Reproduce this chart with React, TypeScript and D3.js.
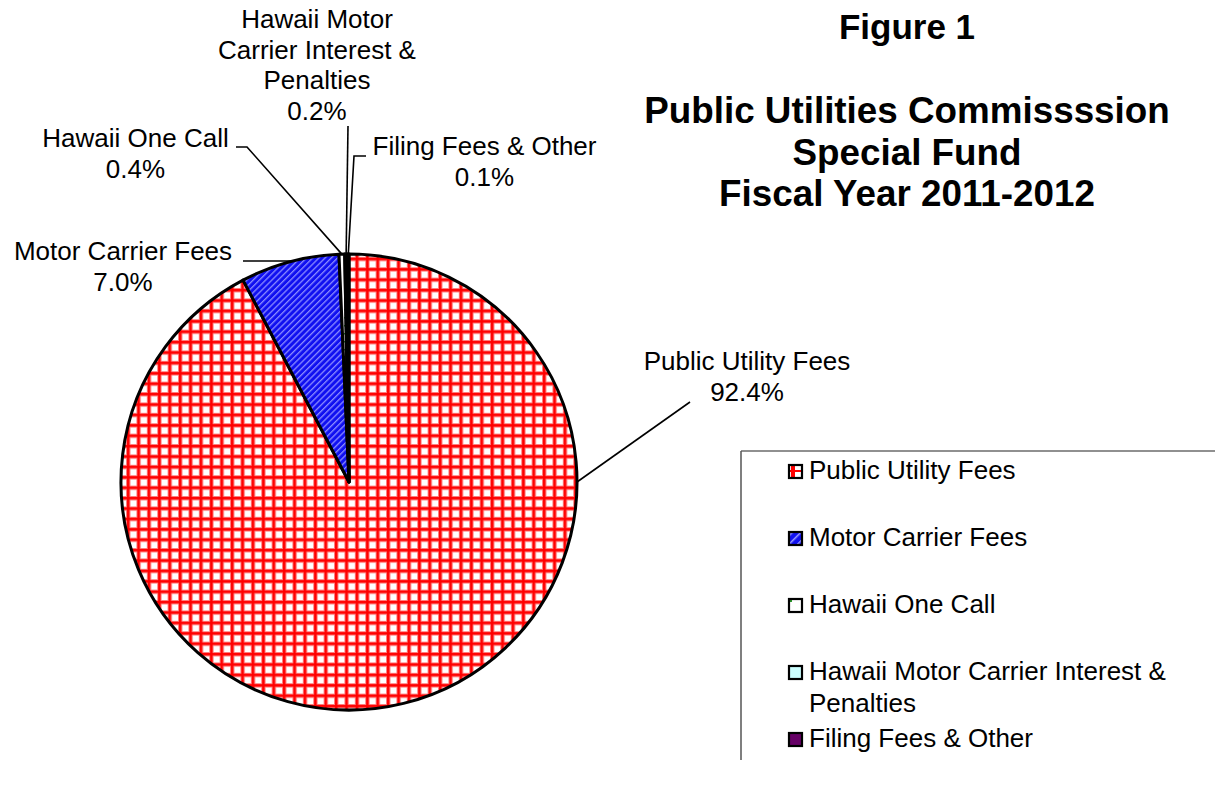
import React from "react";
import * as d3 from "d3";

const categories = [
  "Public Utility Fees",
  "Motor Carrier Fees",
  "Hawaii One Call",
  "Hawaii Motor Carrier Interest & Penalties",
  "Filing Fees & Other",
];
const values = [92.4, 7.0, 0.4, 0.2, 0.1];
const percentLabels = ["92.4%", "7.0%", "0.4%", "0.2%", "0.1%"];
const titleLines = ["Public Utilities Commissssion", "Special Fund", "Fiscal Year 2011-2012"];

const W = 1215;
const H = 786;
const CX = 349;
const CY = 482;
const R = 228;
const FONT = "'Liberation Sans', Arial, Helvetica, sans-serif";

const fills = ["url(#pRed)", "url(#pBlue)", "url(#pGreen)", "#ccffff", "#660066"];
const legendFills = ["url(#lRed)", "url(#lBlue)", "url(#lGreen)", "#ccffff", "#660066"];

// label layout: text lines, center x, first baseline, leader polyline start points, attach angle (null = slice middle)
const labelLayout = [
  { lines: ["Public Utility Fees"], cx: 747, y: 370, pts: [[690, 402]], angle: Math.PI / 2 },
  { lines: ["Motor Carrier Fees"], cx: 123, y: 260, pts: [[243, 261], [290, 261]], angle: null },
  { lines: ["Hawaii One Call"], cx: 135.5, y: 147, pts: [[236, 147], [247, 147]], angle: null },
  { lines: ["Hawaii Motor", "Carrier Interest &", "Penalties"], cx: 317, y: 28, pts: [[348, 126]], angle: null },
  { lines: ["Filing Fees & Other"], cx: 484.5, y: 155, pts: [[366, 156], [354, 156]], angle: null },
];

export default function App() {
  const pie = d3
    .pie<number>()
    .sort(null)
    .value((d) => d);
  const arcs = pie(values);
  const arcGen = d3.arc<d3.PieArcDatum<number>>().innerRadius(0).outerRadius(R);

  const edgePoint = (a: number) => [CX + R * Math.sin(a), CY - R * Math.cos(a)];

  return (
    <svg
      width={W}
      height={H}
      style={{ position: "absolute", left: 0, top: 0, background: "#fff" }}
      fontFamily={FONT}
    >
      <defs>
        <pattern id="pRed" patternUnits="userSpaceOnUse" width={10.4} height={10.4} x={CX} y={CY}>
          <rect width={10.4} height={10.4} fill="#fff" />
          <rect x={0} y={0} width={4.4} height={10.4} fill="#ff8080" />
          <rect x={0} y={0} width={10.4} height={4.4} fill="#ff8080" />
          <rect x={1} y={0} width={2.4} height={10.4} fill="#ff0000" />
          <rect x={0} y={1} width={10.4} height={2.4} fill="#ff0000" />
        </pattern>
        <pattern
          id="pBlue"
          patternUnits="userSpaceOnUse"
          width={4.4}
          height={4.4}
          patternTransform="rotate(45)"
        >
          <rect width={4.4} height={4.4} fill="#1010f0" />
          <rect x={0} y={0} width={1.3} height={4.4} fill="#8c8cff" />
        </pattern>
        <pattern id="pGreen" patternUnits="userSpaceOnUse" width={8} height={8}>
          <rect width={8} height={8} fill="#fff" />
          <rect x={3} y={3} width={1.5} height={1.5} fill="#2a9a2a" />
        </pattern>
        <pattern id="lRed" patternUnits="userSpaceOnUse" width={14} height={14} x={789} y={465}>
          <rect width={14} height={14} fill="#fff" />
          <rect x={2} y={0} width={4} height={14} fill="#ff0000" />
          <rect x={0} y={5} width={14} height={2} fill="#ff0000" />
        </pattern>
        <pattern
          id="lBlue"
          patternUnits="userSpaceOnUse"
          width={6}
          height={6}
          patternTransform="rotate(45)"
        >
          <rect width={6} height={6} fill="#1010f0" />
          <rect x={0} y={0} width={1.5} height={6} fill="#9a9aff" />
        </pattern>
        <pattern id="lGreen" patternUnits="userSpaceOnUse" width={14} height={14} x={789} y={599}>
          <rect width={14} height={14} fill="#fff" />
          <rect x={1} y={1} width={2} height={2} fill="#2a9a2a" />
        </pattern>
      </defs>

      {/* Title */}
      <text x={907} y={39} textAnchor="middle" fontWeight="bold" fontSize={35}>
        Figure 1
      </text>
      {titleLines.map((t, i) => (
        <text key={t} x={907} y={123 + i * 41.5} textAnchor="middle" fontWeight="bold" fontSize={36.8}>
          {t}
        </text>
      ))}

      {/* Pie */}
      <g transform={`translate(${CX},${CY})`}>
        {arcs.map((a, i) => (
          <path key={i} d={arcGen(a) || ""} fill={fills[i]} stroke="#000" strokeWidth={3} strokeLinejoin="round" />
        ))}
      </g>

      {/* Leader lines + labels */}
      {labelLayout.map((l, i) => {
        const a = arcs[i];
        const ang = l.angle !== null ? l.angle : (a.startAngle + a.endAngle) / 2;
        const ep = edgePoint(ang);
        const pts = [...l.pts, ep];
        const line = d3.line()(pts as [number, number][]) || "";
        const all = [...l.lines, percentLabels[i]];
        return (
          <g key={i}>
            <path d={line} fill="none" stroke="#000" strokeWidth={1.6} />
            {all.map((t, j) => (
              <text key={j} x={l.cx} y={l.y + j * 30.5} textAnchor="middle" fontSize={26}>
                {t}
              </text>
            ))}
          </g>
        );
      })}

      {/* Legend */}
      <g>
        <line x1={741} y1={451} x2={W} y2={451} stroke="#222" strokeWidth={1.2} />
        <line x1={741} y1={451} x2={741} y2={760} stroke="#555" strokeWidth={1.5} />
        {categories.map((c, i) => {
          const by = 479 + i * 67;
          const words = c === "Hawaii Motor Carrier Interest & Penalties" ? ["Hawaii Motor Carrier Interest &", "Penalties"] : [c];
          return (
            <g key={c}>
              <rect x={789} y={by - 14} width={13} height={13} fill={legendFills[i]} stroke="#000" strokeWidth={2.2} />
              {words.map((w, j) => (
                <text key={j} x={809} y={by + j * 32} fontSize={26}>
                  {w}
                </text>
              ))}
            </g>
          );
        })}
      </g>
    </svg>
  );
}
